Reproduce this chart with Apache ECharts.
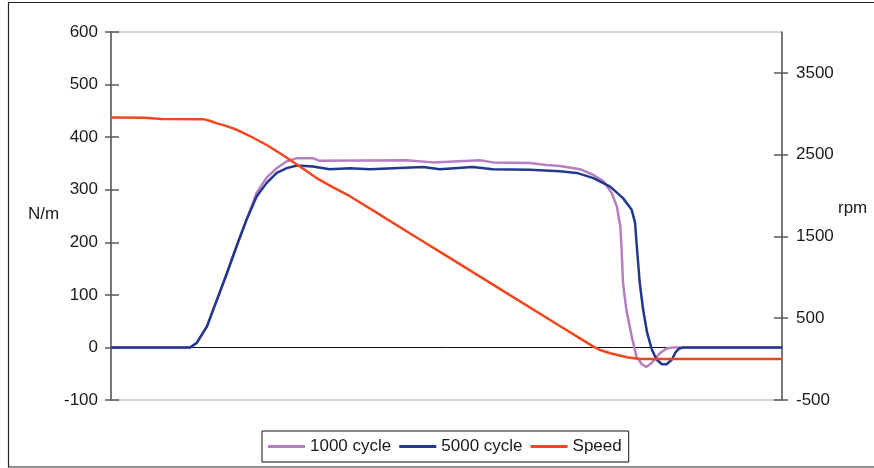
<!DOCTYPE html>
<html>
<head>
<meta charset="utf-8">
<script src="https://cdn.jsdelivr.net/npm/echarts@6/dist/echarts.min.js"></script>
<style>
html,body{margin:0;padding:0;background:#fff;}
#chart{width:874px;height:468px;}
</style>
</head>
<body>
<div id="chart"></div>
<script>
// ---- data (x = relative time, 0..100 across the plot) ----
const seriesNames = ['1000 cycle', '5000 cycle', 'Speed'];

const cycle1000X = [0, 11.8, 12.8, 14.3, 15.8, 17.3, 18.7, 20.2, 21.7, 23.2, 24.7, 26.2, 27.7, 30.1, 31.1, 44, 48, 55, 56.9, 62.4, 64.9, 66.9, 69.9, 71.9, 73.4, 74.6, 75.4, 75.9, 76.1, 76.3, 76.8, 77.6, 78.3, 79.1, 79.8, 80.6, 81.8, 82.8, 83.6, 100];
const cycle1000Y = [0, 0, 9, 40, 91, 142, 192, 243, 294, 323, 341, 354, 360, 360, 355, 356, 352, 356, 352, 351, 347, 345, 339, 328, 316, 294, 268, 230, 186, 123, 72, 21, -17, -32, -37, -29, -11, -2, 0, 0];

const cycle5000X = [0, 11.8, 12.8, 14.3, 15.8, 17.3, 18.7, 20.2, 21.7, 23.2, 24.7, 26.2, 27.7, 30.1, 32.6, 35.6, 38.6, 46.5, 49, 53.9, 56.9, 62.4, 66.9, 69.4, 71.9, 74.4, 76.3, 77.6, 78.1, 78.4, 78.8, 79.3, 79.9, 80.6, 81.3, 82.1, 82.8, 83.6, 84.1, 84.7, 85.3, 100];
const cycle5000Y = [0, 0, 9, 40, 91, 142, 192, 243, 287, 313, 332, 341, 346, 344, 339, 341, 339, 343, 339, 343, 339, 338, 335, 332, 322, 306, 284, 262, 237, 186, 123, 72, 28, -4, -23, -32, -32, -23, -10, -2, 0, 0];

const speedX = [0, 5, 7.5, 13.9, 14.8, 15.8, 17.0, 18.2, 19.4, 20.7, 23.2, 25.6, 28.2, 30.7, 33.1, 35.6, 40, 45, 50, 55, 60, 66.9, 69.9, 71.9, 72.9, 74.4, 76.9, 78.8, 100];
const speedY = [2955, 2950, 2935, 2932, 2912, 2883, 2855, 2822, 2780, 2728, 2618, 2496, 2353, 2211, 2101, 1992, 1770, 1515, 1262, 1008, 755, 405, 254, 152, 111, 71, 22, 0, 0];

const leftTicks = [-100, 0, 100, 200, 300, 400, 500, 600];
const rightTicks = [-500, 500, 1500, 2500, 3500];

const colors = ['#B57EC2', '#22388C', '#F2471E'];
const FONT = 'Liberation Sans, Arial, sans-serif';

function pairs(xs, ys) { return xs.map((x, i) => [x, ys[i]]); }

const chart = echarts.init(document.getElementById('chart'), null, {renderer: 'canvas'});

const axisLineStyle = {color: '#5a5a5a', width: 1.5};
const labelStyle = {color: '#1a1a1a', fontSize: 17, fontFamily: FONT, formatter: v => String(v)};

chart.setOption({
  animation: false,
  backgroundColor: '#fff',
  grid: {left: 111, right: 92, top: 32, bottom: 68, show: true, borderColor: '#a8a8a8', borderWidth: 1, backgroundColor: 'transparent'},
  xAxis: {
    type: 'value', min: 0, max: 100,
    axisLine: {show: true, onZero: true, onZeroAxisIndex: 0, lineStyle: {color: '#111', width: 1}},
    axisTick: {show: false}, axisLabel: {show: false}, splitLine: {show: false}
  },
  yAxis: [
    {
      type: 'value', position: 'left', min: -100, max: 600, interval: 100,
      axisLine: {show: true, lineStyle: axisLineStyle},
      axisTick: {show: true, length: 6, lineStyle: axisLineStyle},
      axisLabel: Object.assign({margin: 13, customValues: leftTicks}, labelStyle),
      splitLine: {show: false}
    },
    {
      type: 'value', position: 'right', min: -500, max: 4000,
      axisLine: {show: true, lineStyle: axisLineStyle},
      axisTick: {show: true, length: 6, customValues: rightTicks, lineStyle: axisLineStyle},
      axisLabel: Object.assign({margin: 14, customValues: rightTicks}, labelStyle),
      splitLine: {show: false}
    },
    {
      type: 'value', position: 'left', min: -100, max: 600, interval: 100,
      axisLine: {show: false},
      axisTick: {show: true, inside: true, length: 8, lineStyle: axisLineStyle},
      axisLabel: {show: false}, splitLine: {show: false}
    },
    {
      type: 'value', position: 'right', min: -500, max: 4000,
      axisLine: {show: false},
      axisTick: {show: true, inside: true, length: 8, customValues: rightTicks, lineStyle: axisLineStyle},
      axisLabel: {show: false}, splitLine: {show: false}
    }
  ],
  legend: {
    left: 262, top: 431,
    data: seriesNames,
    icon: 'rect',
    itemWidth: 37, itemHeight: 3, itemGap: 8,
    padding: [7, 7, 7, 6],
    borderColor: '#111', borderWidth: 1,
    textStyle: {color: '#1a1a1a', fontSize: 17, fontFamily: FONT},
    selectedMode: false
  },
  series: [
    {name: seriesNames[0], type: 'line', yAxisIndex: 0, data: pairs(cycle1000X, cycle1000Y), showSymbol: false, symbol: 'none', lineStyle: {color: colors[0], width: 2.5}, itemStyle: {color: colors[0]}, z: 3},
    {name: seriesNames[1], type: 'line', yAxisIndex: 0, data: pairs(cycle5000X, cycle5000Y), showSymbol: false, symbol: 'none', lineStyle: {color: colors[1], width: 2.5}, itemStyle: {color: colors[1]}, z: 4},
    {name: seriesNames[2], type: 'line', yAxisIndex: 1, data: pairs(speedX, speedY), showSymbol: false, symbol: 'none', lineStyle: {color: colors[2], width: 2.5}, itemStyle: {color: colors[2]}, z: 5}
  ],
  graphic: [
    {type: 'rect', shape: {x: 8.5, y: 2.5, width: 900, height: 464.5}, style: {fill: 'none', stroke: '#222', lineWidth: 1.2}, silent: true},
    {type: 'text', left: 28, top: 206, style: {text: 'N/m', fill: '#1a1a1a', font: '17px ' + FONT}},
    {type: 'text', left: 838, top: 200, style: {text: 'rpm', fill: '#1a1a1a', font: '17px ' + FONT}}
  ]
});
</script>
</body>
</html>
